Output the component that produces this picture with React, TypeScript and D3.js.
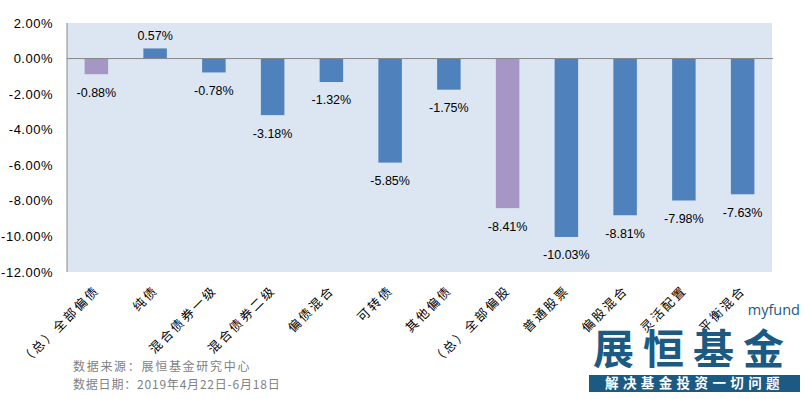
import { useMemo } from "react";
import * as d3 from "d3";

const CATEGORIES = [
  "（总）全部偏债",
  "纯债",
  "混合债券一级",
  "混合债券二级",
  "偏债混合",
  "可转债",
  "其他偏债",
  "（总）全部偏股",
  "普通股票",
  "偏股混合",
  "灵活配置",
  "平衡混合",
];
const VALUES = [-0.88, 0.57, -0.78, -3.18, -1.32, -5.85, -1.75, -8.41, -10.03, -8.81, -7.98, -7.63];
const TOTALS = ["（总）全部偏债", "（总）全部偏股"];
const Y_TICKS = [2, 0, -2, -4, -6, -8, -10, -12];
const SOURCE_LINES = ["数据来源：展恒基金研究中心", "数据日期：2019年4月22日-6月18日"];

const W = 805;
const H = 399;
const PLOT = { left: 67, right: 772, top: 23, bottom: 272 };
const BLUE = "#4f81bd";
const PURPLE = "#a696c6";
const LOGO = "#1b5a82";
const CJK = "'Noto Sans CJK SC', sans-serif";

export default function App() {
  const x = useMemo(
    () => d3.scaleBand().domain(CATEGORIES).range([PLOT.left, PLOT.right]).paddingInner(0.6).paddingOuter(0.3),
    [],
  );
  const y = useMemo(() => d3.scaleLinear().domain([2, -12]).range([PLOT.top, PLOT.bottom]), []);
  const fmt = (v: number) => `${v.toFixed(2)}%`;
  const step = x.step();

  return (
    <svg
      width={W}
      height={H}
      style={{ position: "absolute", left: 0, top: 0, background: "#fff" }}
      fontFamily="'Liberation Sans', Arial, sans-serif"
    >
      <rect x={PLOT.left} y={PLOT.top} width={PLOT.right - PLOT.left} height={PLOT.bottom - PLOT.top} fill="#dce6f2" />

      {/* y axis */}
      <line x1={PLOT.left} x2={PLOT.left} y1={PLOT.top} y2={PLOT.bottom} stroke="#868686" strokeWidth={1} />
      {Y_TICKS.map((t) => (
        <text key={t} x={53} y={y(t)} dy="0.35em" textAnchor="end" fontSize={13} letterSpacing={0.5} fill="#000">
          {fmt(t)}
        </text>
      ))}

      {/* bars */}
      {CATEGORIES.map((c, i) => {
        const v = VALUES[i];
        const y0 = y(Math.max(0, v));
        const y1 = y(Math.min(0, v));
        return (
          <rect
            key={c}
            x={x(c)}
            y={y0}
            width={x.bandwidth()}
            height={y1 - y0}
            fill={TOTALS.includes(c) ? PURPLE : BLUE}
          />
        );
      })}

      {/* zero line */}
      <line x1={PLOT.left} x2={PLOT.right + 1} y1={y(0)} y2={y(0)} stroke="#868686" strokeWidth={1} />

      {/* value labels */}
      {CATEGORIES.map((c, i) => {
        const v = VALUES[i];
        const cx = (x(c) ?? 0) + x.bandwidth() / 2;
        const ly = v >= 0 ? y(v) - 13 : y(v) + 18;
        return (
          <text key={c} x={cx} y={ly} dy="0.35em" textAnchor="middle" fontSize={12.5} fill="#000">
            {fmt(v)}
          </text>
        );
      })}

      {/* category labels, rotated 45 degrees */}
      {CATEGORIES.map((c) => {
        const cx = (x(c) ?? 0) + x.bandwidth() / 2 + step * 0.05;
        return (
          <text
            key={c}
            transform={`translate(${cx + 1},${PLOT.bottom + 19}) rotate(-45)`}
            textAnchor="end"
            fontSize={12.5}
            letterSpacing={2.4}
            fontFamily={CJK}
            fill="#000"
          >
            {c}
          </text>
        );
      })}

      {/* source */}
      {SOURCE_LINES.map((s, i) => (
        <text
          key={s}
          x={73}
          y={371 + i * 18}
          fontSize={12}
          letterSpacing={i === 0 ? 1.7 : 0.8}
          fontFamily={CJK}
          fill="#7f7f7f"
        >
          {s}
        </text>
      ))}

      {/* logo */}
      <text x={800} y={315} textAnchor="end" fontSize={14.5} fontFamily="'Open Sans', sans-serif" fill={LOGO}>
        myfund
      </text>
      <text x={593} y={364} fontSize={41} fontWeight={700} fontFamily={CJK} fill={LOGO} letterSpacing={9}>
        展恒基金
      </text>
      <rect x={589} y={375} width={211} height={17} fill={LOGO} />
      <text
        x={605}
        y={383.5}
        dy="0.35em"
        fontSize={13.5}
        fontWeight={700}
        fontFamily={CJK}
        fill="#fff"
        letterSpacing={4.4}
      >
        解决基金投资一切问题
      </text>
    </svg>
  );
}
